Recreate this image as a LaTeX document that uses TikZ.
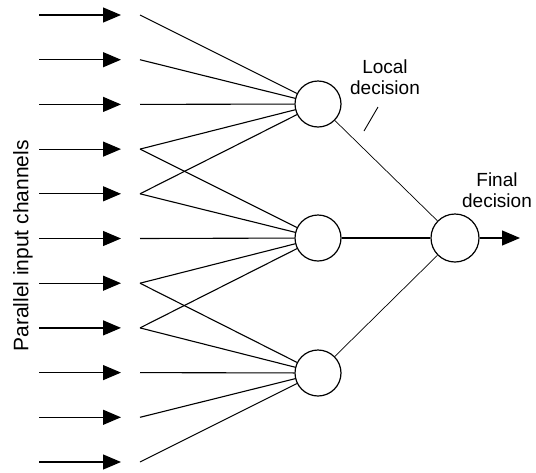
\documentclass[tikz,border=0pt]{standalone}
\usepackage{fontspec}
\setmainfont{Liberation Sans}
\usetikzlibrary{arrows.meta}
\begin{document}
\begin{tikzpicture}[x=1pt,y=-1pt,
  unit/.style={circle,draw,line width=1.2pt,minimum size=46pt,inner sep=0pt},
  inarrow/.style={line width=1.2pt,-{Triangle[length=18pt,width=15pt]}},
  fan/.style={line width=1.1pt},
  link/.style={line width=0.7pt},
  lbl/.style={font=\fontsize{19}{21}\selectfont,align=center,inner sep=0pt}]
\useasboundingbox (0,0) rectangle (536,472);
\foreach \i in {1,...,11}{
  \pgfmathsetmacro\yy{15+44.7*(\i-1)}
  \coordinate (a\i) at (39,\yy);
  \coordinate (b\i) at (121,\yy);
  \coordinate (s\i) at (140,\yy);
  \draw[inarrow] (a\i) -- (b\i);
}
\node[unit] (top) at (318,104) {};
\node[unit] (mid) at (318,238) {};
\node[unit] (bot) at (318,373) {};
\node[unit,minimum size=48pt] (fin) at (455,238) {};
\foreach \i in {1,...,5}{\draw[fan] (s\i) -- (top);}
\foreach \i in {4,...,8}{\draw[fan] (s\i) -- (mid);}
\foreach \i in {7,...,11}{\draw[fan] (s\i) -- (bot);}
\draw[link] (top) -- (fin);
\draw[fan] (mid) -- (fin);
\draw[link] (bot) -- (fin);
\coordinate (out) at (520,238);
\draw[inarrow] (fin) -- (out);
\node[lbl] (local) at (385,77) {Local\\decision};
\coordinate (t1) at (378,107);
\coordinate (t2) at (364,131);
\draw[link,line width=0.9pt] (t1) -- (t2);
\node[lbl] (final) at (497,190) {Final\\decision};
\node[rotate=90,font=\fontsize{21}{24}\selectfont,inner sep=0pt] (plab) at (23,246) {Parallel input channels};
\end{tikzpicture}
\end{document}
